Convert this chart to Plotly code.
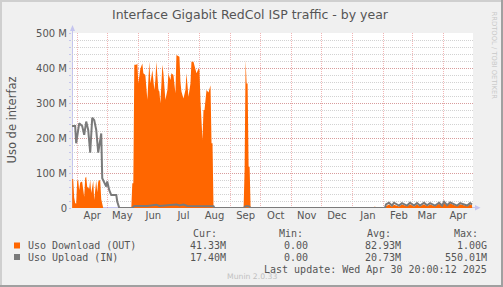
import plotly.graph_objects as go
import pandas as pd

# ---------------- data (values in millions) ----------------
dl_dates = [
    "2024-03-27", "2024-03-28", "2024-03-29", "2024-03-30", "2024-03-31",
    "2024-04-01", "2024-04-02", "2024-04-03", "2024-04-04", "2024-04-05",
    "2024-04-06", "2024-04-07", "2024-04-08", "2024-04-09", "2024-04-10",
    "2024-04-11", "2024-04-12", "2024-04-13", "2024-04-14", "2024-04-15",
    "2024-04-16", "2024-04-17", "2024-04-18", "2024-04-19", "2024-04-20",
    "2024-04-21", "2024-04-22", "2024-04-23", "2024-04-24", "2024-04-25",
    "2024-04-26", "2024-04-27",
    "2024-05-25", "2024-05-26", "2024-05-27", "2024-05-28", "2024-05-30",
    "2024-05-31", "2024-06-01", "2024-06-03", "2024-06-05", "2024-06-06",
    "2024-06-08", "2024-06-10", "2024-06-12", "2024-06-13", "2024-06-15",
    "2024-06-17", "2024-06-18", "2024-06-19", "2024-06-21", "2024-06-22",
    "2024-06-23", "2024-06-25", "2024-06-26", "2024-06-27", "2024-06-28",
    "2024-06-30", "2024-07-01", "2024-07-03", "2024-07-04", "2024-07-06",
    "2024-07-08", "2024-07-09", "2024-07-12", "2024-07-13", "2024-07-14",
    "2024-07-16", "2024-07-18", "2024-07-19", "2024-07-21", "2024-07-23",
    "2024-07-24", "2024-07-26", "2024-07-28", "2024-07-29", "2024-07-31",
    "2024-08-01", "2024-08-02", "2024-08-04", "2024-08-05", "2024-08-06",
    "2024-08-08", "2024-08-10", "2024-08-12", "2024-08-13", "2024-08-14",
    "2024-08-15",
    "2024-09-14", "2024-09-15", "2024-09-16", "2024-09-17", "2024-09-18",
    "2024-09-19", "2024-09-20", "2024-09-21",
    "2025-01-22", "2025-01-23", "2025-01-24",
    "2025-02-02", "2025-02-03", "2025-02-06", "2025-02-09", "2025-02-11",
    "2025-02-16", "2025-02-19", "2025-02-24", "2025-02-27", "2025-03-03",
    "2025-03-06", "2025-03-09", "2025-03-13", "2025-03-16", "2025-03-19",
    "2025-03-24", "2025-03-28", "2025-03-31", "2025-04-02", "2025-04-05",
    "2025-04-08", "2025-04-15", "2025-04-18", "2025-04-25", "2025-04-28",
    "2025-04-30",
]
dl_vals = [
    83, 83, 30, 14, 12,
    78, 80, 51, 72, 75,
    74, 45, 32, 86, 89,
    61, 58, 55, 80, 43,
    60, 78, 23, 55, 78,
    45, 75, 80, 78, 25,
    8, 0,
    0, 71, 71, 409, 409,
    413, 356, 398, 413, 385,
    380, 309, 418, 356, 394,
    337, 366, 418, 337, 333,
    299, 409, 385, 337, 309,
    337, 385, 366, 385, 380,
    328, 437, 432, 361, 333,
    313, 337, 385, 318, 356,
    418, 418, 394, 385, 398,
    394, 304, 194, 280, 280,
    337, 330, 351, 185, 185,
    0,
    0, 109, 423, 356, 356,
    118, 118, 0,
    0, 5, 0,
    0, 5, 10, 4, 9,
    4, 10, 5, 11, 4,
    10, 5, 11, 5, 10,
    5, 12, 6, 15, 6,
    13, 5, 11, 5, 10,
    8,
]

ul_dates = [
    "2024-03-26", "2024-03-30", "2024-03-31", "2024-04-03", "2024-04-06",
    "2024-04-08", "2024-04-10", "2024-04-12", "2024-04-14", "2024-04-16",
    "2024-04-18", "2024-04-20", "2024-04-22", "2024-04-25", "2024-04-26",
    "2024-04-28", "2024-04-30", "2024-05-01", "2024-05-03", "2024-05-05",
    "2024-05-10", "2024-05-11", "2024-05-13",
    "2024-05-26", "2024-05-28", "2024-06-10", "2024-06-19", "2024-06-22",
    "2024-07-09", "2024-07-12", "2024-07-16", "2024-07-20", "2024-08-15",
    "2024-08-16",
    "2024-09-14", "2024-09-16", "2024-09-19", "2024-09-21",
    "2025-02-02", "2025-02-03", "2025-02-06", "2025-02-09", "2025-02-11",
    "2025-02-16", "2025-02-19", "2025-02-24", "2025-02-27", "2025-03-03",
    "2025-03-06", "2025-03-09", "2025-03-13", "2025-03-16", "2025-03-19",
    "2025-03-24", "2025-03-28", "2025-03-31", "2025-04-02", "2025-04-05",
    "2025-04-08", "2025-04-15", "2025-04-18", "2025-04-25", "2025-04-28",
    "2025-04-30",
]
ul_vals = [
    234, 234, 185, 242, 234,
    209, 247, 223, 158, 258,
    251, 223, 158, 213, 85,
    70, 61, 76, 51, 37,
    37, 18, 0,
    0, 6, 6, 9, 6,
    10, 7, 10, 6, 5,
    0,
    0, 5, 5, 0,
    0, 10, 15, 7, 15,
    7, 14, 7, 15, 7,
    14, 7, 15, 8, 14,
    7, 15, 7, 18, 8,
    16, 7, 14, 7, 14,
    10,
]

month_starts = pd.date_range("2024-04-01", "2025-04-01", freq="MS")
month_labels = ["Apr", "May", "Jun", "Jul", "Aug", "Sep", "Oct", "Nov",
                "Dec", "Jan", "Feb", "Mar", "Apr"]
y_ticks = [0, 100, 200, 300, 400, 500]
y_labels = ["0", "100 M", "200 M", "300 M", "400 M", "500 M"]

legend_rows = [
    ("Uso Download (OUT)", "#ff6600", "41.33M", "0.00", "82.93M", "1.00G"),
    ("Uso Upload (IN)", "#7a7a7a", "17.40M", "0.00", "20.73M", "550.01M"),
]

# ---------------- layout geometry ----------------
W, H = 503, 287
L, R, T, B = 72, 473, 33, 208


def px(x):
    return (x - L) / (R - L)


def py(y):
    return (B - y) / (B - T)


SANS = "DejaVu Sans"
MONO = "DejaVu Sans Mono"
TXT = "#555555"
AXIS = "#c4c4ee"
MGRID = "rgba(225,90,90,0.45)"

label_pos = month_starts + pd.Timedelta(days=15)

fig = go.Figure()
fig.add_trace(go.Scatter(
    x=pd.to_datetime(dl_dates), y=[v * 1e6 for v in dl_vals],
    mode="lines", line=dict(width=0, color="#ff6600"),
    fill="tozeroy", fillcolor="#ff6600", hoverinfo="skip"))
fig.add_trace(go.Scatter(
    x=pd.to_datetime(ul_dates), y=[v * 1e6 for v in ul_vals],
    mode="lines", line=dict(width=2, color="#7a7a7a"), hoverinfo="skip"))

fig.update_layout(
    width=W, height=H,
    margin=dict(l=L, r=W - R, t=T, b=H - B, pad=0),
    paper_bgcolor="#f0f0f0", plot_bgcolor="#ffffff",
    showlegend=False,
    font=dict(family=SANS, size=10, color=TXT),
)
fig.update_xaxes(
    range=[pd.Timestamp("2024-03-26 20:00"), pd.Timestamp("2025-04-30 20:00")],
    tickmode="array", tickvals=label_pos, ticktext=month_labels,
    showgrid=False, ticks="", showline=False, zeroline=False,
    tickfont=dict(family=SANS, size=10, color=TXT),
    minor=dict(tickmode="array", tickvals=month_starts, showgrid=True,
               gridcolor=MGRID, griddash="1px,1px",
               gridwidth=1, ticks=""),
)
fig.update_yaxes(
    range=[0, 500e6], tickmode="array",
    tickvals=[v * 1e6 for v in y_ticks], ticktext=y_labels,
    showgrid=True, gridcolor=MGRID, griddash="1px,1px",
    gridwidth=1, zeroline=False, showline=False,
    ticks="outside", ticklen=2, tickcolor=AXIS,
    tickfont=dict(family=SANS, size=10, color=TXT),
    minor=dict(dtick=20e6, showgrid=True, gridcolor="#d2d2d2",
               griddash="1px,1px", gridwidth=1, ticks="outside",
               ticklen=2, tickcolor=AXIS),
)

shapes = []
# frame
shapes.append(dict(type="rect", xref="paper", yref="paper", layer="above",
                   x0=px(0), x1=px(W), y0=py(0), y1=py(2),
                   fillcolor="#cfcfcf", line=dict(width=0)))
shapes.append(dict(type="rect", xref="paper", yref="paper", layer="above",
                   x0=px(0), x1=px(2), y0=py(0), y1=py(H),
                   fillcolor="#cfcfcf", line=dict(width=0)))
shapes.append(dict(type="rect", xref="paper", yref="paper", layer="above",
                   x0=px(0), x1=px(W), y0=py(H - 2), y1=py(H),
                   fillcolor="#a0a0a0", line=dict(width=0)))
shapes.append(dict(type="rect", xref="paper", yref="paper", layer="above",
                   x0=px(W - 2), x1=px(W), y0=py(0), y1=py(H),
                   fillcolor="#a0a0a0", line=dict(width=0)))
# axis lines + arrows
shapes.append(dict(type="line", xref="paper", yref="paper", layer="between",
                   x0=px(72.5), x1=px(72.5), y0=py(208), y1=py(30),
                   line=dict(color=AXIS, width=1)))
shapes.append(dict(type="path", xref="paper", yref="paper", layer="above",
                   path=f"M {px(70)} {py(31)} L {px(75)} {py(31)} L {px(72.5)} {py(25)} Z",
                   fillcolor=AXIS, line=dict(width=0)))
shapes.append(dict(type="line", xref="paper", yref="paper", layer="between",
                   x0=px(72), x1=px(476), y0=py(207.5), y1=py(207.5),
                   line=dict(color=AXIS, width=1)))
shapes.append(dict(type="path", xref="paper", yref="paper", layer="above",
                   path=f"M {px(475)} {py(205)} L {px(475)} {py(210.5)} L {px(480.5)} {py(207.7)} Z",
                   fillcolor=AXIS, line=dict(width=0)))

annotations = []


def ann(text, x, y, xanchor="left", size=10, family=MONO, color=TXT, **kw):
    annotations.append(dict(
        text=text, x=px(x), y=py(y), xref="paper", yref="paper",
        xanchor=xanchor, yanchor="middle", showarrow=False, borderpad=0,
        font=dict(family=family, size=size, color=color), **kw))


ann("Interface Gigabit RedCol ISP traffic - by year", 250.5, 14.5,
    xanchor="center", size=12.5, family=SANS)
ann("Uso de interfaz", 11, 120.5, xanchor="center", size=11.5,
    family=SANS, textangle=-90)
ann("RRDTOOL / TOBI OETIKER", 493.5, 55, xanchor="center", size=6.8,
    family=SANS, color="#c8c8c8", textangle=90)
ann("Munin 2.0.33", 252, 276, xanchor="center", size=7.7, family=SANS,
    color="#c0c0c0")

ann("Cur:", 191.7, 233.5)
ann("Min:", 278.3, 233.5)
ann("Avg:", 366, 233.5)
ann("Max:", 452.7, 233.5)
row_y = [245.5, 257]
for (name, col, cur, mn, avg, mx), yy in zip(legend_rows, row_y):
    shapes.append(dict(type="rect", xref="paper", yref="paper", layer="above",
                       x0=px(14), x1=px(20), y0=py(yy + 3), y1=py(yy - 3),
                       fillcolor=col, line=dict(width=0)))
    ann(name, 26.7, yy)
    ann(cur, 226.7, yy, xanchor="right")
    ann(mn, 309.3, yy, xanchor="right")
    ann(avg, 401.7, yy, xanchor="right")
    ann(mx, 488.3, yy, xanchor="right")
ann("Last update: Wed Apr 30 20:00:12 2025", 488.3, 269, xanchor="right")

fig.update_layout(shapes=shapes, annotations=annotations)
fig.write_html("out.html")
